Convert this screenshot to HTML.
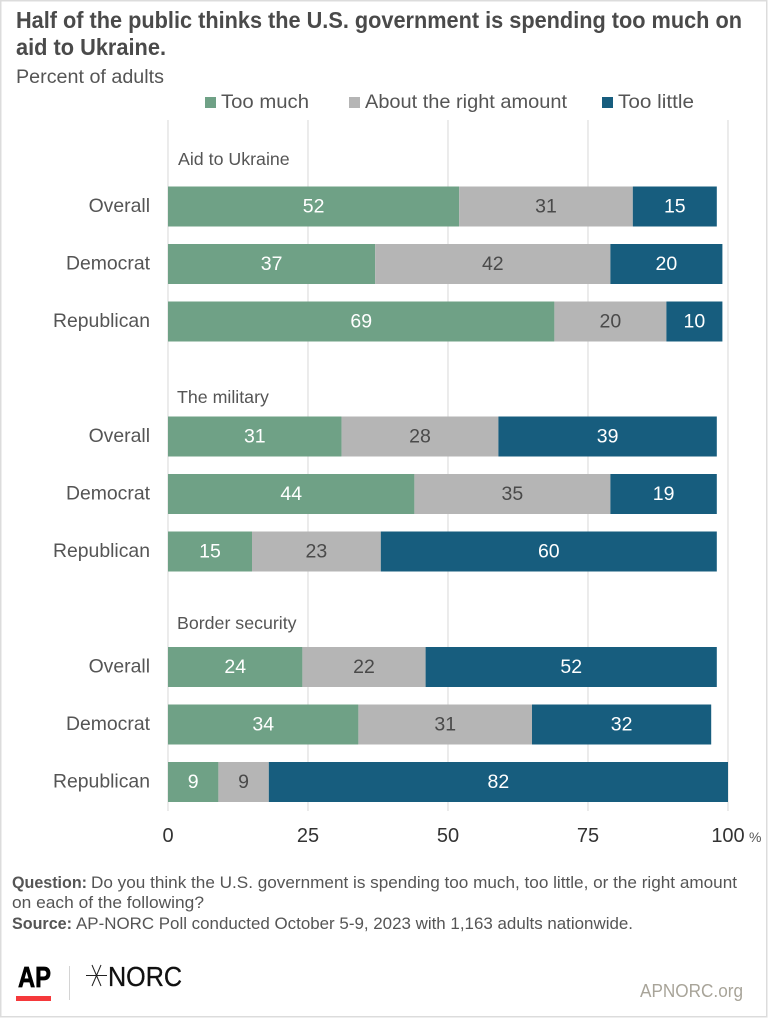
<!DOCTYPE html>
<html lang="en">
<head>
<meta charset="utf-8">
<title>AP-NORC chart</title>
<style>
html,body{margin:0;padding:0;background:#fff}
svg{display:block;font-family:"Liberation Sans",Arial,sans-serif}
</style>
</head>
<body>
<svg id="chart" width="768" height="1018" viewBox="0 0 768 1018" xmlns="http://www.w3.org/2000/svg">
<rect x="0" y="0" width="768" height="1018" fill="#fff"/>
<rect x="0.75" y="0.75" width="766" height="1016" fill="none" stroke="#dcdcdc" stroke-width="1.5"/>
<text x="16" y="28" font-size="23" font-weight="700" fill="#4a4a4a" textLength="726" lengthAdjust="spacingAndGlyphs">Half of the public thinks the U.S. government is spending too much on</text>
<text x="16" y="55" font-size="23" font-weight="700" fill="#4a4a4a" textLength="150" lengthAdjust="spacingAndGlyphs">aid to Ukraine.</text>
<text x="16" y="83" font-size="19" fill="#555" textLength="148" lengthAdjust="spacingAndGlyphs">Percent of adults</text>
<g>
<rect x="205" y="97" width="11" height="11" fill="#6fa186"/>
<text x="221" y="108" font-size="19.5" fill="#555" textLength="88" lengthAdjust="spacingAndGlyphs">Too much</text>
<rect x="349" y="97" width="11" height="11" fill="#b5b5b5"/>
<text x="365" y="108" font-size="19.5" fill="#555" textLength="202" lengthAdjust="spacingAndGlyphs">About the right amount</text>
<rect x="602" y="97" width="11" height="11" fill="#175d7e"/>
<text x="618" y="108" font-size="19.5" fill="#555" textLength="76" lengthAdjust="spacingAndGlyphs">Too little</text>
</g>
<g id="plot"></g>
<text x="749" y="842" font-size="14" fill="#555">%</text>
<g font-size="16.5" fill="#555">
<text x="12" y="888" font-weight="700" textLength="75" lengthAdjust="spacingAndGlyphs">Question:</text>
<text x="91" y="888" textLength="646" lengthAdjust="spacingAndGlyphs">Do you think the U.S. government is spending too much, too little, or the right amount</text>
<text x="12" y="908" textLength="192" lengthAdjust="spacingAndGlyphs">on each of the following?</text>
<text x="12" y="929" font-weight="700" textLength="60" lengthAdjust="spacingAndGlyphs">Source:</text>
<text x="76" y="929" textLength="557" lengthAdjust="spacingAndGlyphs">AP-NORC Poll conducted October 5-9, 2023 with 1,163 adults nationwide.</text>
</g>
<g>
<text x="18" y="987" font-size="29" font-weight="700" fill="#000" stroke="#000" stroke-width="0.7" textLength="33" lengthAdjust="spacingAndGlyphs">AP</text>
<rect x="16" y="996" width="35" height="5" fill="#f5393b"/>
<line x1="69.5" y1="966" x2="69.5" y2="1000" stroke="#d4d4d4" stroke-width="1"/>
<g stroke="#222" stroke-width="1">
<line x1="86" y1="975.5" x2="107" y2="975.5"/>
<line x1="92" y1="965" x2="101" y2="986"/>
<line x1="101" y1="965" x2="92" y2="986"/>
</g>
<text x="108" y="986" font-size="28" fill="#111" stroke="#111" stroke-width="0.3" textLength="74" lengthAdjust="spacingAndGlyphs">NORC</text>
<text x="640" y="997" font-size="18" font-weight="400" fill="#a8a499" textLength="103" lengthAdjust="spacingAndGlyphs">APNORC.org</text>
</g>
</svg>
<script>
const groupNames = ["Aid to Ukraine", "The military", "Border security"];
const rowNames = ["Overall", "Democrat", "Republican"];
const tooMuch = [52, 37, 69, 31, 44, 15, 24, 34, 9];
const aboutRight = [31, 42, 20, 28, 35, 23, 22, 31, 9];
const tooLittle = [15, 20, 10, 39, 19, 60, 52, 32, 82];
const tickValues = [0, 25, 50, 75, 100];

const NS = "http://www.w3.org/2000/svg";
const plot = document.getElementById("plot");
const xScale = v => 168 + v * 5.6;
const groupTop = g => [186.5, 416.5, 647][g];
const groupLabelBaseline = g => [165, 403, 629][g];
const rowY = (i) => groupTop(Math.floor(i / 3)) + (i % 3) * 57.5;
const barH = 40;
function make(tag, attrs, text) {
  const el = document.createElementNS(NS, tag);
  for (const k in attrs) el.setAttribute(k, attrs[k]);
  if (text !== undefined) el.textContent = text;
  plot.appendChild(el);
  return el;
}
tickValues.forEach(t => {
  const line = make("line", {x1: xScale(t), x2: xScale(t), y1: 120, y2: 811, stroke: "#dedede", "stroke-width": 1.2});
  
  
  const lab = make("text", {x: xScale(t), y: 842, "font-size": 20, "text-anchor": "middle", fill: "#333"}, t);
  
  
});
groupNames.forEach((g, i) => {
  const lab = make("text", {x: i === 0 ? 178 : 177, y: groupLabelBaseline(i), "font-size": 17.8, fill: "#555"}, g);
  
  
});
const seriesList = [
  {vals: tooMuch, fill: "#6fa186", txt: "#fff"},
  {vals: aboutRight, fill: "#b5b5b5", txt: "#4a4a4a"},
  {vals: tooLittle, fill: "#175d7e", txt: "#fff"}
];
tooMuch.forEach((_, i) => {
  const y = rowY(i);
  const rl = make("text", {x: 150, y: y + 25.5, "font-size": 19.4, "text-anchor": "end", fill: "#555"}, rowNames[i % 3]);
  
  
  let acc = 0;
  seriesList.forEach(s => {
    const v = s.vals[i];
    const bar = make("rect", {x: xScale(acc), y: y, width: xScale(acc + v) - xScale(acc), height: barH, fill: s.fill});
    
    
    const val = make("text", {x: xScale(acc + v / 2), y: y + 26, "font-size": 19.5, "text-anchor": "middle", fill: s.txt}, v);
    
    
    acc += v;
  });
});
</script>
</body>
</html>
